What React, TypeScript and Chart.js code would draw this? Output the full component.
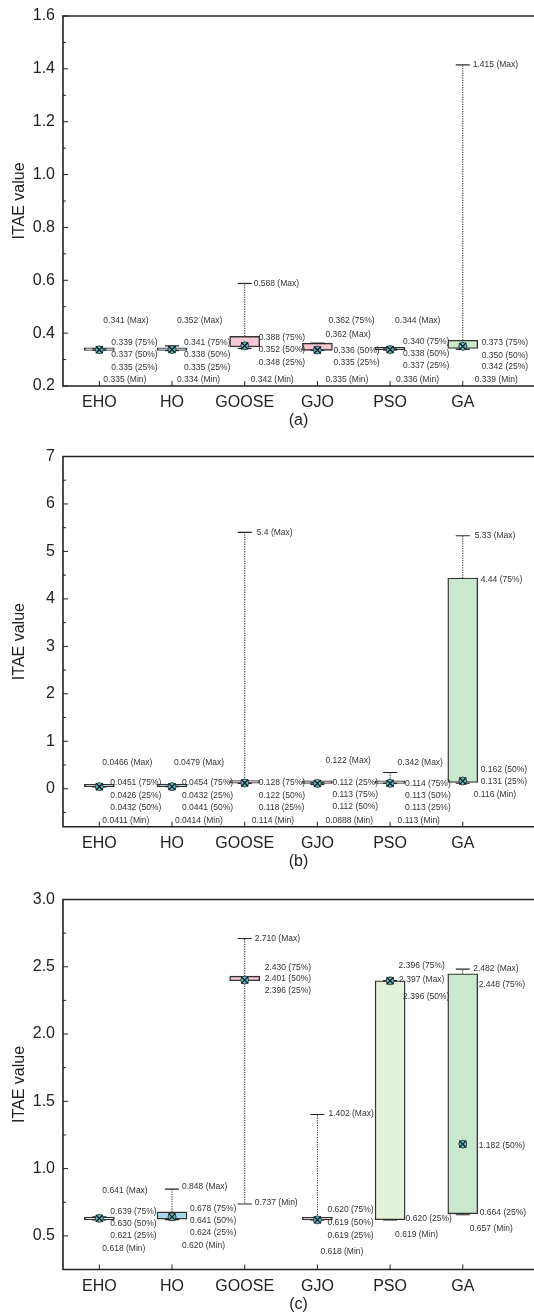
import React, { useEffect, useRef } from 'react';
import { Chart, registerables } from 'chart.js';
Chart.register(...registerables);

const categories = ['EHO', 'HO', 'GOOSE', 'GJO', 'PSO', 'GA'];
const boxColors = ['#eef6f9', '#a9d6ea', '#f6c8d8', '#f6c4cf', '#e4f2da', '#c9e8cd'];

// Panel (a)
const minA = [0.335, 0.334, 0.342, 0.335, 0.336, 0.339];
const q1A = [0.335, 0.335, 0.348, 0.335, 0.337, 0.342];
const medA = [0.337, 0.338, 0.352, 0.336, 0.338, 0.350];
const q3A = [0.339, 0.341, 0.388, 0.362, 0.340, 0.373];
const maxA = [0.341, 0.352, 0.588, 0.362, 0.344, 1.415];
const yTicksA = [0.2, 0.4, 0.6, 0.8, 1.0, 1.2, 1.4, 1.6];
const yMinorA = [0.3, 0.5, 0.7, 0.9, 1.1, 1.3, 1.5];

// Panel (b)
const minB = [0.0411, 0.0414, 0.114, 0.0888, 0.113, 0.116];
const q1B = [0.0426, 0.0432, 0.118, 0.112, 0.113, 0.131];
const medB = [0.0432, 0.0441, 0.122, 0.112, 0.113, 0.162];
const q3B = [0.0451, 0.0454, 0.128, 0.113, 0.114, 4.44];
const maxB = [0.0466, 0.0479, 5.4, 0.122, 0.342, 5.33];
const yTicksB = [0, 1, 2, 3, 4, 5, 6, 7];
const yMinorB = [-0.5, 0.5, 1.5, 2.5, 3.5, 4.5, 5.5, 6.5];

// Panel (c)
const minC = [0.618, 0.620, 0.737, 0.618, 0.619, 0.657];
const q1C = [0.621, 0.624, 2.396, 0.619, 0.620, 0.664];
const medC = [0.630, 0.641, 2.401, 0.619, 2.396, 1.182];
const q3C = [0.639, 0.678, 2.430, 0.620, 2.396, 2.448];
const maxC = [0.641, 0.848, 2.710, 1.402, 2.397, 2.482];
const yTicksC = [0.5, 1.0, 1.5, 2.0, 2.5, 3.0];
const yMinorC = [0.75, 1.25, 1.75, 2.25, 2.75];

// annotation text: [category index, x offset px, anchor value, text]
type Ann = [number, number, number, string];
const labelsA: Ann[] = [
  [0, 4, 0.446, '0.341 (Max)'], [0, 12, 0.365, '0.339 (75%)'], [0, 12, 0.317, '0.337 (50%)'], [0, 12, 0.271, '0.335 (25%)'], [0, 4, 0.225, '0.335 (Min)'],
  [1, 5, 0.446, '0.352 (Max)'], [1, 12, 0.365, '0.341 (75%)'], [1, 12, 0.317, '0.338 (50%)'], [1, 12, 0.271, '0.335 (25%)'], [1, 5, 0.225, '0.334 (Min)'],
  [2, 9, 0.586, '0.588 (Max)'], [2, 14, 0.384, '0.388 (75%)'], [2, 14, 0.336, '0.352 (50%)'], [2, 14, 0.290, '0.348 (25%)'], [2, 6, 0.225, '0.342 (Min)'],
  [3, 11, 0.447, '0.362 (75%)'], [3, 8, 0.393, '0.362 (Max)'], [3, 16, 0.332, '0.336 (50%)'], [3, 16, 0.288, '0.335 (25%)'], [3, 8, 0.225, '0.335 (Min)'],
  [4, 5, 0.447, '0.344 (Max)'], [4, 13, 0.369, '0.340 (75%)'], [4, 13, 0.321, '0.338 (50%)'], [4, 13, 0.276, '0.337 (25%)'], [4, 6, 0.225, '0.336 (Min)'],
  [5, 10, 1.415, '1.415 (Max)'], [5, 19, 0.365, '0.373 (75%)'], [5, 19, 0.316, '0.350 (50%)'], [5, 19, 0.272, '0.342 (25%)'], [5, 12, 0.225, '0.339 (Min)'],
];
const labelsB: Ann[] = [
  [0, 3, 0.553, '0.0466 (Max)'], [0, 11, 0.123, '0.0451 (75%)'], [0, 11, -0.136, '0.0426 (25%)'], [0, 11, -0.395, '0.0432 (50%)'], [0, 3, -0.663, '0.0411 (Min)'],
  [1, 2, 0.553, '0.0479 (Max)'], [1, 10, 0.123, '0.0454 (75%)'], [1, 10, -0.136, '0.0432 (25%)'], [1, 10, -0.395, '0.0441 (50%)'], [1, 3, -0.663, '0.0414 (Min)'],
  [2, 12, 5.402, '5.4 (Max)'], [2, 14, 0.123, '0.128 (75%)'], [2, 14, -0.136, '0.122 (50%)'], [2, 14, -0.395, '0.118 (25%)'], [2, 7, -0.663, '0.114 (Min)'],
  [3, 8, 0.581, '0.122 (Max)'], [3, 15, 0.138, '0.112 (25%)'], [3, 15, -0.121, '0.113 (75%)'], [3, 15, -0.383, '0.112 (50%)'], [3, 8, -0.663, '0.0888 (Min)'],
  [4, 7.5, 0.553, '0.342 (Max)'], [4, 15, 0.102, '0.114 (75%)'], [4, 15, -0.151, '0.113 (50%)'], [4, 15, -0.395, '0.113 (25%)'], [4, 7.5, -0.663, '0.113 (Min)'],
  [5, 12, 5.324, '5.33 (Max)'], [5, 18, 4.411, '4.44 (75%)'], [5, 18, 0.412, '0.162 (50%)'], [5, 18, 0.153, '0.131 (25%)'], [5, 11, -0.115, '0.116 (Min)'],
];
const labelsC: Ann[] = [
  [0, 3, 0.834, '0.641 (Max)'], [0, 11, 0.677, '0.639 (75%)'], [0, 11, 0.588, '0.630 (50%)'], [0, 11, 0.499, '0.621 (25%)'], [0, 3, 0.402, '0.618 (Min)'],
  [1, 10, 0.863, '0.848 (Max)'], [1, 18, 0.700, '0.678 (75%)'], [1, 18, 0.611, '0.641 (50%)'], [1, 18, 0.521, '0.624 (25%)'], [1, 10, 0.425, '0.620 (Min)'],
  [2, 10, 2.712, '2.710 (Max)'], [2, 20, 2.496, '2.430 (75%)'], [2, 20, 2.409, '2.401 (50%)'], [2, 20, 2.320, '2.396 (25%)'], [2, 10, 0.744, '0.737 (Min)'],
  [3, 11, 1.406, '1.402 (Max)'], [3, 10, 0.692, '0.620 (75%)'], [3, 10, 0.598, '0.619 (50%)'], [3, 10, 0.499, '0.619 (25%)'], [3, 3, 0.385, '0.618 (Min)'],
  [4, 8.5, 2.511, '2.396 (75%)'], [4, 9, 2.402, '2.397 (Max)'], [4, 13, 2.281, '2.396 (50%)'], [4, 15.5, 0.631, '0.620 (25%)'], [4, 5, 0.506, '0.619 (Min)'],
  [5, 10.5, 2.489, '2.482 (Max)'], [5, 16, 2.365, '2.448 (75%)'], [5, 16, 1.168, '1.182 (50%)'], [5, 17, 0.675, '0.664 (25%)'], [5, 7, 0.551, '0.657 (Min)'],
];

const FONT = '"Liberation Sans", Arial, Helvetica, sans-serif';
const INK = '#222';

interface PanelCfg {
  title: string;
  mins: number[]; q1: number[]; med: number[]; q3: number[]; maxs: number[];
  yMin: number; yMax: number; yTicks: number[]; yMinor: number[]; decimals: number;
  labels: Ann[];
  top: number; height: number; padTop: number; xHeight: number; titlePad: number;
}

const panels: PanelCfg[] = [
  { title: '(a)', mins: minA, q1: q1A, med: medA, q3: q3A, maxs: maxA, yMin: 0.2, yMax: 1.6, yTicks: yTicksA, yMinor: yMinorA, decimals: 1, labels: labelsA, top: 0, height: 440, padTop: 16, xHeight: 54, titlePad: 9.4 },
  { title: '(b)', mins: minB, q1: q1B, med: medB, q3: q3B, maxs: maxB, yMin: -0.8, yMax: 7, yTicks: yTicksB, yMinor: yMinorB, decimals: 0, labels: labelsB, top: 440, height: 440, padTop: 16.5, xHeight: 53.3, titlePad: 8.4 },
  { title: '(c)', mins: minC, q1: q1C, med: medC, q3: q3C, maxs: maxC, yMin: 0.25, yMax: 3.0, yTicks: yTicksC, yMinor: yMinorC, decimals: 1, labels: labelsC, top: 880, height: 436, padTop: 19.5, xHeight: 46.5, titlePad: 1.9 },
];

function makeChart(canvas: HTMLCanvasElement, p: PanelCfg) {
  const whisker: any[] = [];
  categories.forEach((_, i) => {
    whisker.push({ x: i + 1, y: p.q3[i] }, { x: i + 1, y: p.maxs[i] }, { x: i + 1, y: null });
    whisker.push({ x: i + 1, y: p.q1[i] }, { x: i + 1, y: p.mins[i] }, { x: i + 1, y: null });
  });
  const caps: any[] = [];
  categories.forEach((_, i) => {
    caps.push({ x: i + 1, y: p.maxs[i] }, { x: i + 1, y: p.mins[i] });
  });
  const meds = categories.map((_, i) => ({ x: i + 1, y: p.med[i] }));

  const framePlugin = {
    id: 'frame',
    afterDraw(chart: any) {
      const { ctx, chartArea: a, scales } = chart;
      const x = scales.x, y = scales.y;
      ctx.save();
      ctx.strokeStyle = INK;
      ctx.lineWidth = 1;
      p.yTicks.forEach((v) => {
        const py = y.getPixelForValue(v);
        ctx.beginPath(); ctx.moveTo(a.left, py); ctx.lineTo(a.left + 5, py); ctx.stroke();
      });
      p.yMinor.forEach((v) => {
        const py = y.getPixelForValue(v);
        ctx.beginPath(); ctx.moveTo(a.left, py); ctx.lineTo(a.left + 3, py); ctx.stroke();
      });
      categories.forEach((_, i) => {
        const px = x.getPixelForValue(i + 1);
        ctx.beginPath(); ctx.moveTo(px, a.bottom); ctx.lineTo(px, a.bottom - 5); ctx.stroke();
      });
      ctx.lineWidth = 1.6;
      ctx.beginPath();
      ctx.moveTo(a.right + 2, a.top);
      ctx.lineTo(a.left, a.top);
      ctx.lineTo(a.left, a.bottom);
      ctx.lineTo(a.right + 2, a.bottom);
      ctx.stroke();
      ctx.font = `8.5px ${FONT}`;
      ctx.fillStyle = '#333';
      ctx.textAlign = 'left';
      ctx.textBaseline = 'middle';
      p.labels.forEach(([ci, dx, v, t]) => {
        ctx.fillText(t, x.getPixelForValue(ci + 1) + dx, y.getPixelForValue(v));
      });
      ctx.restore();
    },
  };

  return new Chart(canvas, {
    type: 'bar',
    data: {
      datasets: [
        {
          type: 'scatter', data: meds, order: 0, pointStyle: 'crossRot', pointRadius: 5,
          pointBorderColor: '#111', pointBorderWidth: 1.2, pointBackgroundColor: 'transparent', showLine: false,
        } as any,
        {
          type: 'scatter', data: meds, order: 1, pointStyle: 'circle', pointRadius: 4,
          pointBackgroundColor: '#56bcc6', pointBorderColor: '#222', pointBorderWidth: 0.8, showLine: false,
        } as any,
        {
          type: 'scatter', data: caps, order: 2, pointStyle: 'line', pointRadius: 7,
          pointBorderColor: INK, pointBorderWidth: 1.2, showLine: false,
        } as any,
        {
          type: 'bar', data: categories.map((_, i) => ({ x: i + 1, y: [p.q1[i], p.q3[i]] })), order: 3,
          backgroundColor: boxColors, borderColor: '#333', borderWidth: 1.4, borderSkipped: false,
          barThickness: 30, minBarLength: 2.5,
        } as any,
        {
          type: 'line', data: whisker, order: 4, borderColor: '#222', borderWidth: 1, borderDash: [1.2, 1.2],
          pointRadius: 0, spanGaps: false, fill: false,
        } as any,
      ],
    },
    options: {
      animation: false,
      responsive: false,
      maintainAspectRatio: false,
      events: [],
      layout: { autoPadding: false, padding: { top: p.padTop, left: 6, right: 0, bottom: 0 } },
      plugins: { legend: { display: false }, tooltip: { enabled: false } },
      scales: {
        x: {
          type: 'linear', min: 0.5, max: 6.98, offset: false,
          grid: { display: false, drawTicks: false, offset: false }, border: { display: false },
          afterBuildTicks: (s: any) => { s.ticks = categories.map((_, i) => ({ value: i + 1 })); s.min = 0.5; s.max = 6.98; },
          ticks: {
            callback: (v: any) => categories[Math.round(v) - 1] ?? '',
            font: { family: FONT, size: 16 }, color: INK, padding: 7, autoSkip: false, maxRotation: 0,
          },
          title: { display: true, text: p.title, font: { family: FONT, size: 16 }, color: INK, padding: { top: 0, bottom: p.titlePad } },
          afterFit: (s: any) => { s.height = p.xHeight; s.paddingLeft = 0; s.paddingRight = 0; },
        },
        y: {
          type: 'linear', min: p.yMin, max: p.yMax,
          grid: { display: false, drawTicks: false }, border: { display: false },
          afterBuildTicks: (s: any) => { s.ticks = p.yTicks.map((v) => ({ value: v })); s.min = p.yMin; s.max = p.yMax; },
          ticks: {
            callback: (v: any) => Number(v).toFixed(p.decimals),
            font: { family: FONT, size: 16 }, color: INK, padding: 8,
          },
          title: { display: true, text: 'ITAE value', font: { family: FONT, size: 16 }, color: INK, padding: { top: 4, bottom: 4 } },
          afterFit: (s: any) => { s.width = 57; s.paddingTop = 0; s.paddingBottom = 0; },
        },
      },
    } as any,
    plugins: [framePlugin],
  });
}

function Panel({ p }: { p: PanelCfg }) {
  const ref = useRef<HTMLCanvasElement>(null);
  useEffect(() => {
    if (!ref.current) return;
    const c = makeChart(ref.current, p);
    return () => c.destroy();
  }, [p]);
  return (
    <canvas
      ref={ref}
      width={534}
      height={p.height}
      style={{ position: 'absolute', left: 0, top: p.top, width: 534, height: p.height, display: 'block' }}
    />
  );
}

export default function App() {
  return (
    <div style={{ position: 'absolute', left: 0, top: 0, width: 534, height: 1316, background: '#fff' }}>
      {panels.map((p) => (
        <Panel key={p.title} p={p} />
      ))}
    </div>
  );
}
